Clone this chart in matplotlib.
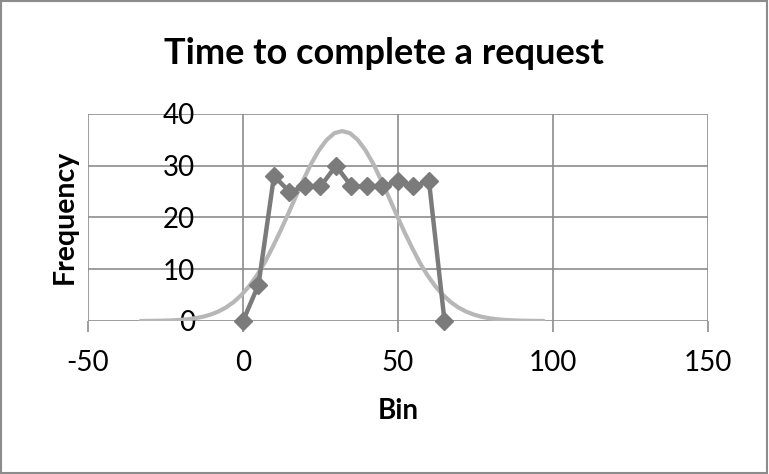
import matplotlib.pyplot as plt
from matplotlib.patches import Rectangle

# histogram bins and counts
bins = [0, 5, 10, 15, 20, 25, 30, 35, 40, 45, 50, 55, 60, 65]
freq = [0, 7, 28, 25, 26, 26, 30, 26, 26, 26, 27, 26, 27, 0]

# fitted normal curve
curve_x = [-33, -30.5, -28, -25.5, -23, -20.5, -18, -15.5, -13, -10.5, -8, -5.5, -3, -0.5,
           2, 4.5, 7, 9.5, 12, 14.5, 17, 19.5, 22, 24.5, 27, 29.5, 32,
           34.5, 37, 39.5, 42, 44.5, 47, 49.5, 52, 54.5, 57, 59.5, 62, 64.5,
           67, 69.5, 72, 74.5, 77, 79.5, 82, 84.5, 87, 89.5, 92, 94.5, 97]
curve_y = [0.01, 0.02, 0.04, 0.07, 0.12, 0.21, 0.33, 0.53, 0.81, 1.23, 1.81, 2.60, 3.66, 5.03,
           6.74, 8.84, 11.3, 14.2, 17.3, 20.6, 24.0, 27.3, 30.4, 33.0, 35.0, 36.3, 36.7,
           36.3, 35.0, 33.0, 30.4, 27.3, 24.0, 20.6, 17.3, 14.2, 11.3, 8.84, 6.74, 5.03,
           3.66, 2.60, 1.81, 1.23, 0.81, 0.53, 0.33, 0.21, 0.12, 0.07, 0.04, 0.02, 0.01]

x_ticks = [-50, 0, 50, 100, 150]
y_ticks = [0, 10, 20, 30, 40]

plt.rcParams['font.family'] = ['Lato', 'DejaVu Sans']
plt.rcParams['axes.unicode_minus'] = False

fig = plt.figure(figsize=(7.69, 4.74), dpi=100)
ax = fig.add_axes([0.1144, 0.3228, 0.8063, 0.4367])

ax.set_xlim(-50, 150)
ax.set_ylim(0, 40)
ax.set_xticks(x_ticks)
ax.set_yticks(y_ticks)

grid_col = '#8c8c8c'
for v in x_ticks:
    ax.axvline(v, color=grid_col, lw=1.2, zorder=1)
for v in y_ticks:
    ax.axhline(v, color=grid_col, lw=1.2, zorder=1)

for s in ax.spines.values():
    s.set_visible(False)

ax.plot(curve_x, curve_y, color='#b7b7b7', lw=3, zorder=3, solid_capstyle='round')
ax.plot(bins, freq, color='#7b7b7b', lw=3.2, marker='D', markersize=9.5,
        zorder=4, clip_on=False)

ax.tick_params(axis='x', direction='out', length=8, width=1.2, color=grid_col,
               labelsize=20, pad=13)
ax.tick_params(axis='y', length=0, labelsize=20, pad=0)
# y labels sit just left of the x=0 axis, as in the spreadsheet chart
for lab in ax.get_yticklabels():
    lab.set_x(0.173)
    lab.set_horizontalalignment('right')

# title is centred on the whole figure, not the plot area
ax.set_title('Time to complete a request', fontsize=26, fontweight='bold', pad=36, x=0.477)
ax.set_xlabel('Bin', fontsize=20, fontweight='bold')
ax.xaxis.set_label_coords(0.5, -0.372)
ax.set_ylabel('Frequency', fontsize=20.5, fontweight='bold')
ax.yaxis.set_label_coords(-0.016, 0.505)

fig.patches.append(Rectangle((0.001, 0.003), 0.996, 0.994, transform=fig.transFigure,
                             fill=False, edgecolor='#8c8c8c', lw=1.5))

fig.savefig('out.png', dpi=100)
